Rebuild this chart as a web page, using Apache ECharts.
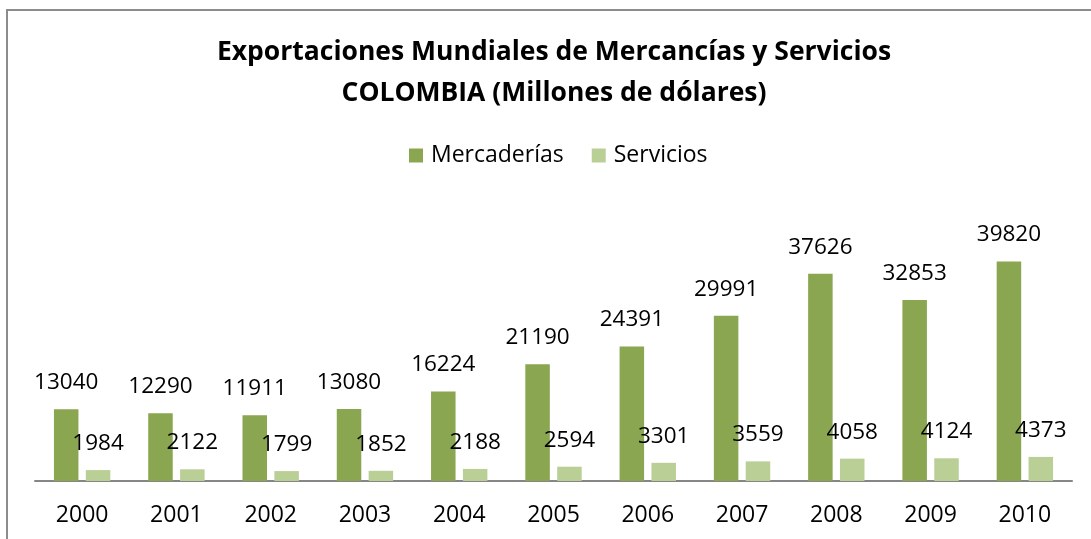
<!DOCTYPE html>
<html><head><meta charset="utf-8">
<script src="https://cdn.jsdelivr.net/npm/echarts@6/dist/echarts.min.js"></script>
<style>html,body{margin:0;padding:0;background:#fff}#c{width:1091px;height:539px}</style>
</head><body><div id="c"></div>
<script>
const years = ['2000','2001','2002','2003','2004','2005','2006','2007','2008','2009','2010'];
const mercaderias = [13040,12290,11911,13080,16224,21190,24391,29991,37626,32853,39820];
const servicios = [1984,2122,1799,1852,2188,2594,3301,3559,4058,4124,4373];
const seriesNames = ['Mercaderías','Servicios'];
const titleText = 'Exportaciones Mundiales de Mercancías y Servicios\nCOLOMBIA (Millones de dólares)';

const FONT = 'Open Sans';
const chart = echarts.init(document.getElementById('c'), null, {renderer:'canvas'});
chart.setOption({
  animation:false,
  backgroundColor:'#fff',
  graphic:[{type:'rect', shape:{x:7,y:10,width:1200,height:600}, style:{fill:'none', stroke:'#8c8c8c', lineWidth:2}, silent:true}],
  title:{text:titleText, left:549, top:27, textAlign:'center',
    textStyle:{fontFamily:FONT, fontWeight:'bold', fontSize:26.5, color:'#000', lineHeight:41}},
  legend:{top:139, left:404, itemWidth:14, itemHeight:14, itemGap:28, icon:'rect',
    textStyle:{fontFamily:FONT, fontSize:23, color:'#000', padding:[0,0,0,3]},
    data:seriesNames},
  grid:{left:35, right:19, top:233, bottom:58},
  xAxis:{type:'category', data:years,
    axisLine:{lineStyle:{color:'#868686', width:2}}, axisTick:{show:false},
    axisLabel:{fontFamily:FONT, fontSize:23, color:'#000', margin:23}},
  yAxis:{type:'value', min:0, max:45000, show:false, splitLine:{show:false}},
  series:[
    {name:seriesNames[0], type:'bar', data:mercaderias, barWidth:'26%', barGap:'30%',
     itemStyle:{color:'#8aa651'},
     label:{show:true, position:'top', distance:15, fontFamily:FONT, fontSize:22.5, color:'#000'}},
    {name:seriesNames[1], type:'bar', data:servicios, barWidth:'26%',
     itemStyle:{color:'#bacf96'},
     label:{show:true, position:'top', distance:15, fontFamily:FONT, fontSize:22.5, color:'#000'}}
  ]
});
</script></body></html>
